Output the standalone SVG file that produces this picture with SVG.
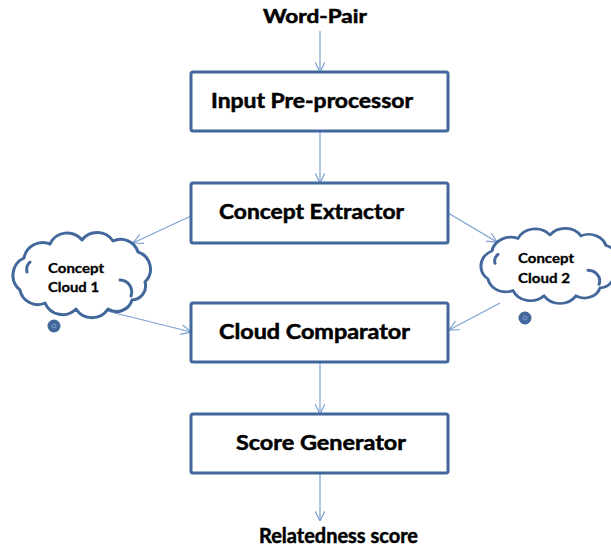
<svg xmlns="http://www.w3.org/2000/svg" width="611" height="550" viewBox="0 0 611 550">
<style>
.box{fill:#fff;stroke:#41679b;stroke-width:3}
.cloud{fill:#fff;stroke:#41679b;stroke-width:3;stroke-linejoin:round}
.inner{fill:none;stroke:#41679b;stroke-width:3;stroke-linecap:round}
.bub{fill:#41679b;stroke:#41679b;stroke-width:2}
.lbl{font-family:Lato,"Open Sans","Liberation Sans",sans-serif;font-weight:700;fill:#000;stroke:#000;stroke-width:0.5}
.conn line{stroke:#7b9fd0;stroke-width:1.2;marker-end:url(#ah)}
</style>
<defs>
<marker id="ah" viewBox="0 0 10 10" refX="10" refY="5" markerWidth="10" markerHeight="10" markerUnits="userSpaceOnUse" orient="auto">
<path d="M0,0 L10,5 L0,10" fill="none" stroke="#7b9fd0" stroke-width="1.2"/>
</marker>
<path id="cloudShape" d="M24,258 A19,19 0 0 1 50,244 A19,19 0 0 1 82,240 A19,19 0 0 1 113,241 A18,18 0 0 1 138,252 A18,18 0 0 1 145,282 A14,14 0 0 1 132,300 A16,16 0 0 1 108,309 A19,19 0 0 1 76,309 A19,19 0 0 1 45,303 A18,18 0 0 1 20,290 A19,19 0 0 1 24,258 Z"/>
</defs>
<rect width="611" height="550" fill="#fff"/>
<g id="connectors" class="conn">
<line x1="320" y1="31" x2="320" y2="72"/>
<line x1="320" y1="131" x2="320" y2="183"/>
<line x1="320" y1="362" x2="320" y2="414"/>
<line x1="320" y1="473" x2="320" y2="521"/>
<line x1="191" y1="216" x2="133" y2="243"/>
<line x1="107" y1="311" x2="191" y2="332"/>
<line x1="448" y1="213" x2="497" y2="242"/>
<line x1="500" y1="303" x2="449" y2="330"/>
</g>
<g id="word-pair"><text class="lbl" x="315" y="23" font-size="18" text-anchor="middle" textLength="104" lengthAdjust="spacingAndGlyphs">Word-Pair</text></g>
<g id="input-preprocessor">
<rect class="box" x="191" y="72" width="257" height="59" rx="2"/>
<text class="lbl" x="211" y="108" font-size="20" textLength="202" lengthAdjust="spacingAndGlyphs">Input Pre-processor</text>
</g>
<g id="concept-extractor">
<rect class="box" x="191" y="183" width="257" height="60" rx="2"/>
<text class="lbl" x="219" y="219" font-size="20" textLength="185" lengthAdjust="spacingAndGlyphs">Concept Extractor</text>
</g>
<g id="cloud-comparator">
<rect class="box" x="191" y="303" width="257" height="59" rx="2"/>
<text class="lbl" x="219" y="339" font-size="20" textLength="191" lengthAdjust="spacingAndGlyphs">Cloud Comparator</text>
</g>
<g id="score-generator">
<rect class="box" x="191" y="414" width="257" height="59" rx="2"/>
<text class="lbl" x="236" y="450" font-size="20" textLength="170" lengthAdjust="spacingAndGlyphs">Score Generator</text>
</g>
<g id="relatedness-score"><text class="lbl" x="259" y="543" font-size="21" textLength="159" lengthAdjust="spacingAndGlyphs">Relatedness score</text></g>
<g id="concept-cloud-1">
<use href="#cloudShape" class="cloud"/>
<path class="inner" d="M120,280 A12,12 0 0 1 131,296"/>
<path class="inner" d="M30,262 A10,10 0 0 0 27,272"/>
<circle class="bub" cx="54" cy="326" r="5.5"/>
<circle cx="54" cy="326" r="2" fill="none" stroke="#7b9fd0" stroke-width="1"/>
<text class="lbl" x="48" y="273" font-size="13" textLength="56" lengthAdjust="spacingAndGlyphs" style="stroke-width:0.3">Concept</text>
<text class="lbl" x="48" y="292" font-size="13" textLength="51" lengthAdjust="spacingAndGlyphs" style="stroke-width:0.3">Cloud 1</text>
</g>
<g id="concept-cloud-2">
<g transform="translate(481,228) scale(1,0.88) translate(-13,-232)">
<use href="#cloudShape" class="cloud" style="vector-effect:non-scaling-stroke"/>
<path class="inner" d="M120,280 A12,12 0 0 1 131,296" style="vector-effect:non-scaling-stroke"/>
<path class="inner" d="M30,262 A10,10 0 0 0 27,272" style="vector-effect:non-scaling-stroke"/>
</g>
<circle class="bub" cx="525" cy="318" r="5.5"/>
<circle cx="525" cy="318" r="2" fill="none" stroke="#7b9fd0" stroke-width="1"/>
<text class="lbl" x="518" y="263" font-size="13" textLength="56" lengthAdjust="spacingAndGlyphs" style="stroke-width:0.3">Concept</text>
<text class="lbl" x="518" y="283" font-size="13" textLength="52" lengthAdjust="spacingAndGlyphs" style="stroke-width:0.3">Cloud 2</text>
</g>
</svg>
